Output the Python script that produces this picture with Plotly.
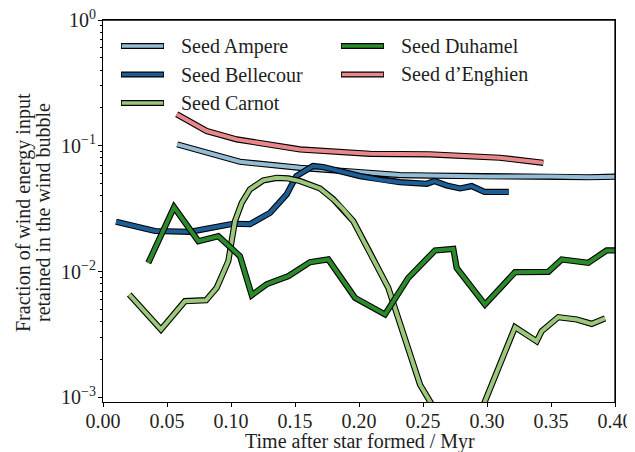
import plotly.graph_objects as go

# ---- data ----
ampere_t = [0.058, 0.081, 0.107, 0.154, 0.2086, 0.232, 0.255, 0.30, 0.35, 0.38, 0.40]
ampere_f = [0.1026, 0.0879, 0.0746, 0.0668, 0.0610, 0.0585, 0.0580, 0.0570, 0.0570, 0.0562, 0.0568]

bellecour_t = [0.0102, 0.0406, 0.068, 0.0758, 0.1016, 0.1148, 0.1305, 0.1435, 0.151, 0.164,
               0.172, 0.2008, 0.219, 0.232, 0.253, 0.259, 0.2685, 0.279, 0.288, 0.298, 0.317]
bellecour_f = [0.0249, 0.0210, 0.0207, 0.0214, 0.0240, 0.0238, 0.0293, 0.0411, 0.0574, 0.0690,
               0.0678, 0.0574, 0.0531, 0.0514, 0.0499, 0.0524, 0.0484, 0.0458, 0.0478, 0.0430, 0.0430]

carnot_t = [0.0205, 0.0453, 0.064, 0.0805, 0.0888, 0.0979, 0.1031, 0.1084, 0.1148, 0.1252,
            0.1357, 0.1448, 0.1539, 0.1695, 0.18, 0.1877, 0.1955, 0.2086, 0.2229, 0.2477,
            0.281, 0.3219, 0.3388, 0.3427, 0.3557, 0.3701, 0.3818, 0.3922]
carnot_f = [0.00657, 0.00346, 0.00582, 0.00592, 0.00742, 0.0121, 0.0252, 0.0352, 0.0450, 0.0531,
            0.0556, 0.0550, 0.0524, 0.0458, 0.0375, 0.0312, 0.0252, 0.0141, 0.00742, 0.00126,
            0.00034, 0.00361, 0.00279, 0.00336, 0.00434, 0.00416, 0.00384, 0.00424]

duhamel_t = [0.0354, 0.0555, 0.0745, 0.0901, 0.107, 0.1162, 0.1279, 0.1448, 0.1617, 0.176,
             0.1969, 0.2203, 0.2385, 0.2594, 0.2737, 0.2763, 0.2984, 0.3219, 0.3479, 0.3584,
             0.3791, 0.3935, 0.40]
duhamel_f = [0.01173, 0.0325, 0.01745, 0.0191, 0.01327, 0.00649, 0.00794, 0.00919, 0.01188, 0.01248,
             0.00618, 0.00456, 0.00891, 0.01472, 0.01517, 0.0107, 0.00547, 0.00989, 0.00995, 0.01248,
             0.01173, 0.01472, 0.01472]

enghien_t = [0.0576, 0.081, 0.1045, 0.154, 0.2086, 0.255, 0.310, 0.344]
enghien_f = [0.178, 0.131, 0.1124, 0.0936, 0.0863, 0.0855, 0.0803, 0.0732]

names = ["Seed Ampere", "Seed Bellecour", "Seed Carnot", "Seed Duhamel", "Seed d\u2019Enghien"]
colors = ["#94bcd4", "#1b5f96", "#9cc87a", "#2b8a29", "#e8888a"]
xs = [ampere_t, bellecour_t, carnot_t, duhamel_t, enghien_t]
ys = [ampere_f, bellecour_f, carnot_f, duhamel_f, enghien_f]

x_ticks = [0.0, 0.05, 0.10, 0.15, 0.20, 0.25, 0.30, 0.35, 0.40]
x_ticklabels = ["0.00", "0.05", "0.10", "0.15", "0.20", "0.25", "0.30", "0.35", "0.40"]
y_ticks = [1e-3, 1e-2, 1e-1, 1e0]
y_ticklabels = ["10<sup>\u22123</sup>", "10<sup>\u22122</sup>", "10<sup>\u22121</sup>", "10<sup>0</sup>"]
y_minor = [m * 10.0 ** k for k in (-4, -3, -2, -1) for m in range(2, 10)]

FONT = "Liberation Serif"
TXT = "#1e1e1e"
FS = 20

fig = go.Figure()
for name, t, f, c in zip(names, xs, ys, colors):
    fig.add_trace(go.Scatter(x=t, y=f, mode="lines", showlegend=False, hoverinfo="skip",
                             line=dict(color="black", width=6.2)))
    fig.add_trace(go.Scatter(x=t, y=f, mode="lines", name=name, showlegend=False,
                             line=dict(color=c, width=4)))

# The page body has an 8px default margin; lay the figure out so the plot box
# lands at screen pixels x 103..615, y 20..402.
W, H = 635, 452
OFF = 8
SL, SR, ST, SB = 103, 615, 20, 402               # plot box in screen pixels
L, T = SL - OFF, ST - OFF
R, B = W - (SR - OFF), H - (SB - OFF)
pw, ph = SR - SL, SB - ST

def px(xs_):
    return (xs_ - SL) / pw

def py(ys_):
    return (SB - ys_) / ph

cols = [(121, 164, 179), (341, 384, 399)]
rows = [46, 74.5, 103]
slots = [(0, 0), (0, 1), (0, 2), (1, 0), (1, 1)]
shapes = []
annotations = []
for (ci, ri), name, c in zip(slots, names, colors):
    x0, x1, xt = cols[ci]
    yy = py(rows[ri])
    shapes.append(dict(type="line", xref="paper", yref="paper", x0=px(x0), x1=px(x1), y0=yy, y1=yy,
                       line=dict(color="black", width=6)))
    shapes.append(dict(type="line", xref="paper", yref="paper", x0=px(x0 + 0.8), x1=px(x1 - 0.8), y0=yy, y1=yy,
                       line=dict(color=c, width=3.6)))
    annotations.append(dict(xref="paper", yref="paper", x=px(xt), y=yy, text=name, showarrow=False,
                            xanchor="left", yanchor="middle", font=dict(family=FONT, size=FS, color=TXT)))

# plot frame (top and right edges)
shapes.append(dict(type="line", xref="paper", yref="paper", x0=0, x1=1, y0=1, y1=1,
                   line=dict(color="black", width=1.3), layer="above"))
shapes.append(dict(type="line", xref="paper", yref="paper", x0=1, x1=1, y0=0, y1=1,
                   line=dict(color="black", width=1.3), layer="above"))

# axis titles
annotations.append(dict(xref="paper", yref="paper", x=px(24), y=py(213), text="Fraction of wind energy input",
                        showarrow=False, textangle=-90, xanchor="center", yanchor="middle",
                        font=dict(family=FONT, size=FS, color=TXT)))
annotations.append(dict(xref="paper", yref="paper", x=px(43), y=py(213), text="retained in the wind bubble",
                        showarrow=False, textangle=-90, xanchor="center", yanchor="middle",
                        font=dict(family=FONT, size=FS, color=TXT)))
annotations.append(dict(xref="paper", yref="paper", x=px(360), y=py(442), text="Time after star formed / Myr",
                        showarrow=False, xanchor="center", yanchor="middle",
                        font=dict(family=FONT, size=FS, color=TXT)))

fig.update_layout(
    width=W, height=H,
    margin=dict(l=L, r=R, t=T, b=B, pad=0, autoexpand=False),
    paper_bgcolor="white", plot_bgcolor="white",
    showlegend=False,
    shapes=shapes, annotations=annotations,
    font=dict(family=FONT, size=FS, color=TXT),
)
fig.update_xaxes(
    range=[0, 0.4], tickvals=x_ticks, ticktext=x_ticklabels, automargin=False,
    showgrid=False, zeroline=False, showline=True, linecolor="black", linewidth=1.2, mirror=True,
    ticks="outside", ticklen=4, tickwidth=1, tickcolor="black", ticklabelstandoff=-3,
    ticklabeloverflow="allow",
    tickfont=dict(family=FONT, size=FS, color=TXT),
)
fig.update_yaxes(
    type="log", range=[-3.037, 0], tickvals=y_ticks, ticktext=y_ticklabels, automargin=False,
    showgrid=False, zeroline=False, showline=True, linecolor="black", linewidth=1.2, mirror=True,
    ticks="outside", ticklen=4, tickwidth=1, tickcolor="black", ticklabelstandoff=-2,
    ticklabeloverflow="allow",
    tickfont=dict(family=FONT, size=FS, color=TXT),
    minor=dict(tickvals=y_minor, ticks="outside", ticklen=2.2, tickwidth=0.8, tickcolor="black", showgrid=False),
)

fig.write_html("out.html")
